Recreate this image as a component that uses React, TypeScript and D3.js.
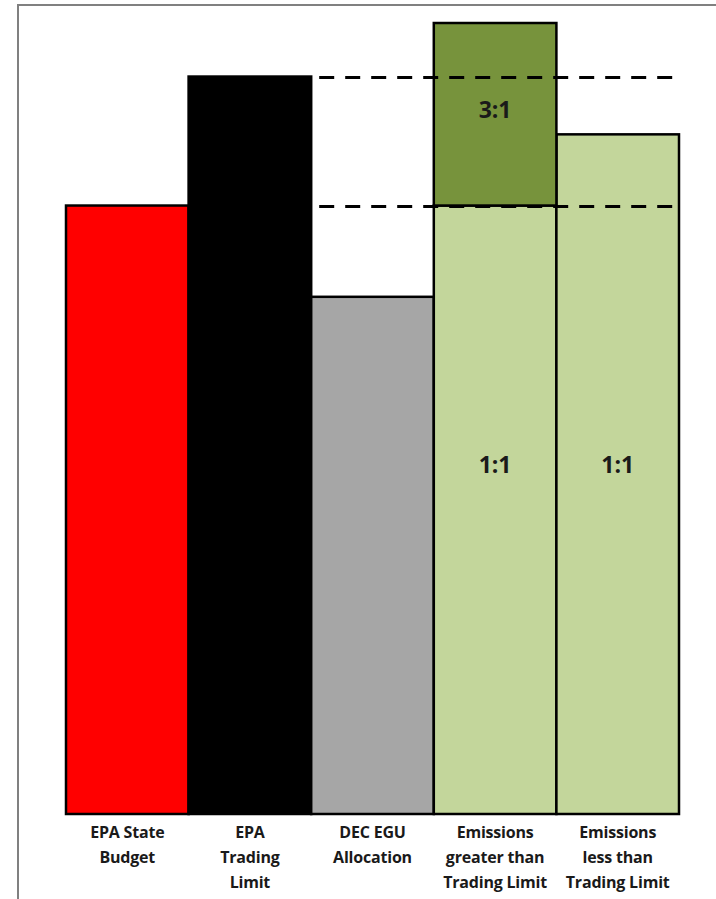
import { useEffect, useRef } from 'react';
import * as d3 from 'd3';

// categories along the bottom, each label split into lines
const categories = ['budget', 'tradingLimit', 'decEgu', 'emissionsGreater', 'emissionsLess'];
const categoryLabels = [
  ['EPA State', 'Budget'],
  ['EPA', 'Trading', 'Limit'],
  ['DEC EGU', 'Allocation'],
  ['Emissions', 'greater than', 'Trading Limit'],
  ['Emissions', 'less than', 'Trading Limit'],
];

const baseValues = [100, 121.2, 85, 100, 111.7];
const offsetValues = [0, 0, 0, 30, 0];
const baseFills = ['#ff0000', '#000000', '#a6a6a6', '#c3d69b', '#c3d69b'];
const baseLabels = ['', '', '', '1:1', '1:1'];
const offsetLabel = '3:1';
const offsetFill = '#77933c';

// reference lines: EPA trading limit and EPA state budget
const refLines = [121.2, 100];
// level where the 1:1 labels sit
const ratioLabelLevel = 57;

export default function App() {
  const svgRef = useRef<SVGSVGElement | null>(null);

  useEffect(() => {
    const svgEl = svgRef.current;
    if (!svgEl) return;
    const width = 716;
    const height = 899;
    const svg = d3.select(svgEl);
    svg.selectAll('*').remove();
    svg.attr('width', width).attr('height', height).attr('viewBox', `0 0 ${width} ${height}`);

    // gray frame, cut off at the right and bottom
    svg.append('path')
      .attr('d', `M18,${height + 5} L18,5 L${width + 5},5`)
      .attr('fill', 'none')
      .attr('stroke', '#808080')
      .attr('stroke-width', 2);

    const x = d3.scaleBand<string>().domain(categories).range([66, 679]).padding(0);
    const y = d3.scaleLinear().domain([0, 130]).range([814, 23]);

    const g = svg.append('g');

    g.selectAll('rect.base')
      .data(categories)
      .join('rect')
      .attr('class', 'base')
      .attr('x', (d) => x(d) ?? 0)
      .attr('y', (_, i) => y(baseValues[i]))
      .attr('width', x.bandwidth())
      .attr('height', (_, i) => y(0) - y(baseValues[i]))
      .attr('fill', (_, i) => baseFills[i])
      .attr('stroke', '#000')
      .attr('stroke-width', 2.5);

    // 3:1 offset segment on top
    g.selectAll('rect.offset')
      .data(categories.filter((_, i) => offsetValues[i] > 0))
      .join('rect')
      .attr('class', 'offset')
      .attr('x', (d) => x(d) ?? 0)
      .attr('y', (d) => {
        const i = categories.indexOf(d);
        return y(baseValues[i] + offsetValues[i]);
      })
      .attr('width', x.bandwidth())
      .attr('height', (d) => {
        const i = categories.indexOf(d);
        return y(baseValues[i]) - y(baseValues[i] + offsetValues[i]);
      })
      .attr('fill', offsetFill)
      .attr('stroke', '#000')
      .attr('stroke-width', 2.5);

    const lineStart = (x('tradingLimit') ?? 0) + x.bandwidth() + 8;
    const lineEnd = (x('emissionsLess') ?? 0) + x.bandwidth() + 3;
    g.selectAll('line.ref')
      .data(refLines)
      .join('line')
      .attr('class', 'ref')
      .attr('x1', lineStart)
      .attr('x2', lineEnd)
      .attr('y1', (d) => y(d) + 1)
      .attr('y2', (d) => y(d) + 1)
      .attr('stroke', '#000')
      .attr('stroke-width', 3)
      .attr('stroke-dasharray', '15,11');

    const labelFont = '"Open Sans", Lato, sans-serif';

    categories.forEach((c, i) => {
      const cx = (x(c) ?? 0) + x.bandwidth() / 2;
      if (baseLabels[i]) {
        g.append('text')
          .attr('x', cx)
          .attr('y', y(ratioLabelLevel))
          .attr('text-anchor', 'middle')
          .attr('dominant-baseline', 'middle')
          .attr('font-family', labelFont)
          .attr('font-weight', 700)
          .attr('font-size', 23)
          .attr('fill', '#1a1a1a')
          .text(baseLabels[i]);
      }
      if (offsetValues[i] > 0) {
        g.append('text')
          .attr('x', cx)
          .attr('y', y(refLines[0]) + 35)
          .attr('text-anchor', 'middle')
          .attr('dominant-baseline', 'middle')
          .attr('font-family', labelFont)
          .attr('font-weight', 700)
          .attr('font-size', 23)
          .attr('fill', '#1a1a1a')
          .text(offsetLabel);
      }
    });

    categories.forEach((c, i) => {
      const cx = (x(c) ?? 0) + x.bandwidth() / 2;
      const t = g.append('text')
        .attr('text-anchor', 'middle')
        .attr('font-family', labelFont)
        .attr('font-weight', 700)
        .attr('font-size', 16)
        .attr('letter-spacing', -0.2)
        .attr('fill', '#1a1a1a');
      categoryLabels[i].forEach((line, j) => {
        t.append('tspan').attr('x', cx).attr('y', 838 + j * 25).text(line);
      });
    });
  }, []);

  return (
    <div style={{ position: 'absolute', left: 0, top: 0, background: '#fff' }}>
      <svg ref={svgRef} style={{ display: 'block' }} />
    </div>
  );
}
